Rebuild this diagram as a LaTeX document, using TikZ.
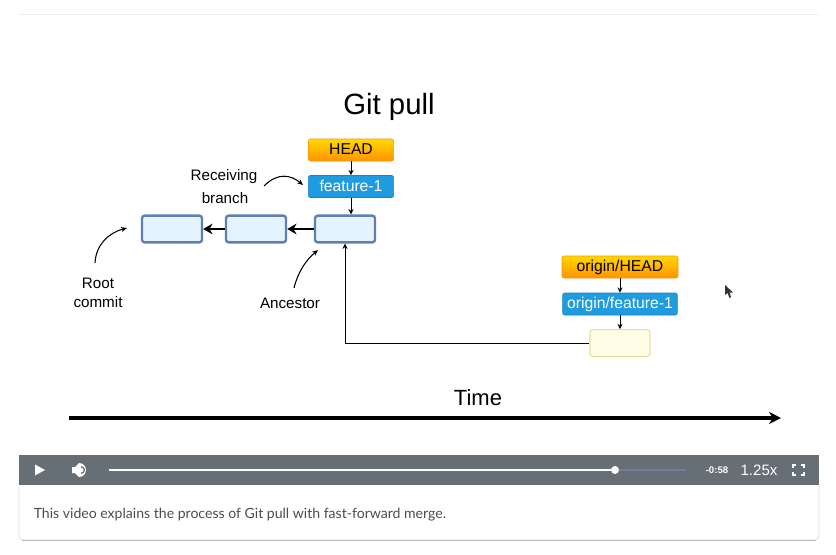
\documentclass[tikz,border=0pt]{standalone}
\usepackage{fontspec}
\setmainfont{Liberation Sans}
\newfontfamily\captionfont{Lato}
\usetikzlibrary{arrows.meta}
\definecolor{barcol}{HTML}{666E76}
\definecolor{commitline}{HTML}{5F7FB3}
\definecolor{commitfill}{HTML}{E4F3FD}
\definecolor{branchcol}{HTML}{1F9BDF}
\definecolor{trackcol}{HTML}{6F7F9B}
\definecolor{remoteline}{HTML}{E6DDA0}
\definecolor{remotefill}{HTML}{FFFDE3}
\tikzset{
    headbox/.style={draw=orange!85!yellow, rounded corners=1.5pt, top color=yellow!70!orange, bottom color=orange!85!yellow, minimum height=16.5pt, font=\fontsize{11.8}{13}\selectfont, text height=8.6pt, text depth=1.4pt, inner sep=0pt},
    branchbox/.style={draw=branchcol!85!black, rounded corners=1.5pt, fill=branchcol, text=white, minimum height=16.5pt, font=\fontsize{11.8}{13}\selectfont, text height=8.6pt, text depth=1.4pt, inner sep=0pt},
    commit/.style={draw=commitline, line width=1.8pt, rounded corners=2pt, fill=commitfill, minimum width=45pt, minimum height=20pt},
    remote/.style={draw=remoteline, line width=0.8pt, rounded corners=2pt, fill=remotefill, minimum width=45pt, minimum height=20pt},
    note/.style={font=\fontsize{11.4}{13}\selectfont, inner sep=0pt},
    ctrl/.style={text=white, inner sep=0pt},
    small/.style={-{Stealth[length=4pt,width=3.8pt]}, line width=0.75pt},
    back/.style={-{Stealth[length=7pt,width=8pt]}, line width=2.2pt},
    curved/.style={-{Stealth[length=4.5pt,width=3.8pt]}, line width=0.8pt}
}
\begin{document}
\begin{tikzpicture}[x=0.75pt, y=-0.75pt]
    \useasboundingbox (0,0) rectangle (836,554);
    % page frame
    \draw[gray!15] (19,14) -- (819,14);
    \draw[gray!25, line width=0.7pt, rounded corners=3pt] (19,485) -- (19,540) -- (819,540) -- (819,485);
    \draw[gray!55, line width=0.9pt, rounded corners=3pt] (22,540.5) -- (816,540.5);
    \fill[barcol] (19,455) rectangle (819,485);
    % local side
    \node at (389,106.5) (title) {\fontsize{22}{26}\selectfont Git pull};
    \node[headbox, minimum width=64pt] at (351,150) (head) {HEAD};
    \node[branchbox, minimum width=64pt] at (351,186.5) (feature) {feature-1};
    \node[commit] at (172,229) (first) {};
    \node[commit] at (256,229) (second) {};
    \node[commit] at (345,229) (third) {};
    \draw[small] (head) -- (feature);
    \draw[small] (feature.south) -- (feature |- third.north);
    \draw[back] (third) -- (second);
    \draw[back] (second) -- (first);
    % remote side
    \node[headbox, minimum width=87pt] at (620,267) (orighead) {origin/HEAD};
    \node[branchbox, minimum width=86pt] at (620,304) (origfeature) {origin/feature-1};
    \node[remote] at (620,343) (fetched) {};
    \draw[small] (orighead) -- (origfeature);
    \draw[small] (origfeature) -- (origfeature |- fetched.north);
    \draw[small] (fetched.west) -| (third.south);
    % notes
    \node[note] at (224,177) (recv1) {Receiving};
    \node[note] at (225,198) (recv2) {branch};
    \node[note] at (98,283.5) (root1) {Root};
    \node[note] at (98,302) (root2) {commit};
    \node[note] at (290,303) (ancestor) {Ancestor};
    \coordinate (recvstart) at (264,186);
    \coordinate (rootstart) at (95,263);
    \coordinate (ancstart) at (294,288);
    \draw[curved] (recvstart) .. controls (278,172) and (291,175) .. (303,185);
    \draw[curved] (rootstart) .. controls (96,245) and (108,233) .. (127,228);
    \draw[curved] (ancstart) .. controls (298,272) and (306,260) .. (318,250);
    % time
    \node at (478,398) (time) {\fontsize{16.5}{20}\selectfont Time};
    \coordinate (tstart) at (69,418);
    \coordinate (tend) at (781,418);
    \draw[-{Stealth[length=9pt,width=9pt]}, line width=2.8pt] (tstart) -- (tend);
    % mouse pointer
    \fill[black!80] (725,285) -- (725,295) -- (727.5,293) -- (729.5,298) -- (731,297) -- (729.5,292.5) -- (733,292.5) -- cycle;
    % player
    \fill[white] (35,464.5) -- (35,475.5) -- (45,470) -- cycle;
    \fill[white] (72,467) -- (75,467) -- (79,463) -- (79,477) -- (75,473) -- (72,473) -- cycle;
    \fill[white] (79,463) arc (-90:90:7) -- cycle;
    \fill[barcol] (81,466) arc (-90:90:4) -- cycle;
    \fill[white] (81,467.5) arc (-90:90:2.5) -- cycle;
    \coordinate (barstart) at (109,470);
    \coordinate (barend) at (686,470);
    \node[circle, fill=white, inner sep=0pt, minimum size=6pt] at (615,470) (knob) {};
    \draw[white, line width=2.2pt] (barstart) -- (knob);
    \draw[trackcol, line width=2.2pt] (knob) -- (barend);
    \node[ctrl, font=\fontsize{7.2}{9}\selectfont\bfseries] at (717,470) (remain) {-0:58};
    \node[ctrl, font=\fontsize{11.3}{13}\selectfont] at (759,470) (speed) {1.25x};
    \draw[white, line width=1.3pt]
        (793,468) -- (793,465) -- (796,465) (801,465) -- (804,465) -- (804,468)
        (804,472) -- (804,475) -- (801,475) (796,475) -- (793,475) -- (793,472);
    % caption
    \node[anchor=west, inner sep=0pt, text=black!70, font=\captionfont\fontsize{10.55}{12}\selectfont] at (33.5,515) (caption) {This video explains the process of Git pull with fast-forward merge.};
\end{tikzpicture}
\end{document}
